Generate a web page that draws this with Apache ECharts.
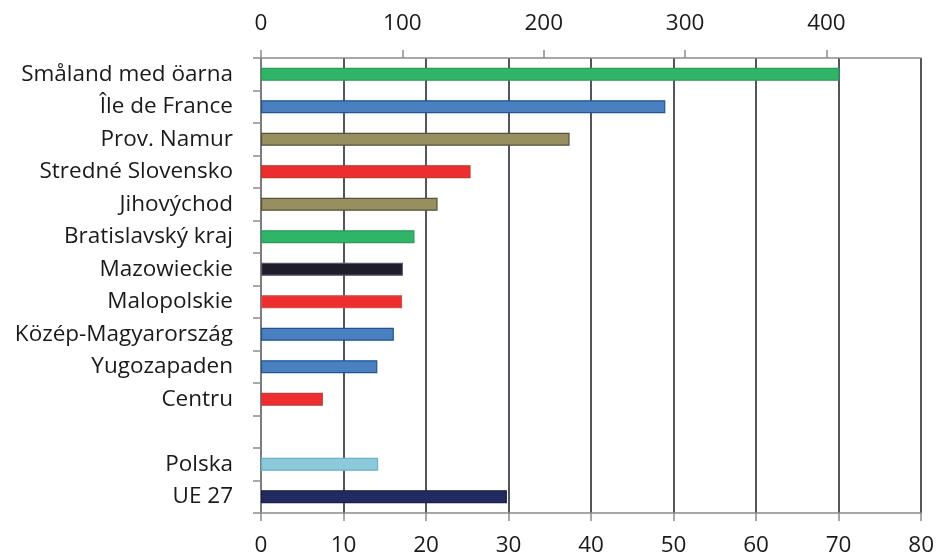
<!DOCTYPE html>
<html><head><meta charset="utf-8">
<script src="https://cdn.jsdelivr.net/npm/echarts@6/dist/echarts.min.js"></script>
<style>html,body{margin:0;padding:0;background:#fff}#c{width:937px;height:557px}</style>
</head><body><div id="c"></div>
<script>
const categories = ["Småland med öarna","Île de France","Prov. Namur","Stredné Slovensko","Jihovýchod","Bratislavský kraj","Mazowieckie","Malopolskie","Közép-Magyarország","Yugozapaden","Centru","","Polska","UE 27"];
const values = [70.1, 49.0, 37.4, 25.4, 21.4, 18.6, 17.2, 17.1, 16.1, 14.1, 7.5, null, 14.2, 29.8];
const barColors = ["#2fb468","#4a7fc0","#988f61","#ee2e2e","#988f61","#2fb468","#1d1d2b","#ee2e2e","#4a7fc0","#4a7fc0","#ee2e2e","#ffffff","#8bcadb","#222b60"];
const borderColors = ["#2c9c5a","#1f5597","#55523d","#c0392b","#55523d","#2c9c5a","#55556a","#d05050","#1f5597","#1f5597","#c04040","#ffffff","#6fb0c8","#1a1f48"];
const bottomTicks = [0,10,20,30,40,50,60,70,80];
const topTicks = [0,100,200,300,400];

const chart = echarts.init(document.getElementById('c'));
const font = "'Open Sans', sans-serif";
chart.setOption({
  animation: false,
  grid: {left: 261, right: 13, top: 58, bottom: 40},
  xAxis: [
    {type:'value', position:'bottom', min:0, max:80, interval:10,
     axisLine:{show:true, lineStyle:{color:'#8a8a8a', width:1.5}},
     axisTick:{show:true, length:8, lineStyle:{color:'#8a8a8a', width:1.5}},
     axisLabel:{color:'#1a1a1a', fontSize:22.5, fontFamily:font, margin:21},
     splitLine:{show:true, lineStyle:{color:'#2a2a35', width:1.6}}},
    {type:'value', position:'top', min:0, max:467,
     axisLine:{show:true, lineStyle:{color:'#8a8a8a', width:1.5}},
     axisTick:{show:true, length:8, customValues: topTicks, lineStyle:{color:'#8a8a8a', width:1.5}},
     axisLabel:{color:'#1a1a1a', fontSize:22.5, fontFamily:font, margin:23, customValues: topTicks},
     splitLine:{show:false}}
  ],
  yAxis: {type:'category', data: categories, inverse:true,
    axisLine:{show:true, lineStyle:{color:'#8a8a8a', width:1.5}},
    axisTick:{show:true, length:8, lineStyle:{color:'#8a8a8a', width:1.5}},
    axisLabel:{color:'#1a1a1a', fontSize:22.5, fontFamily:font, margin:28}},
  series: [{
    type:'bar', xAxisIndex:0, barWidth:13,
    data: values.map((v,i)=>({value:v, itemStyle:{color:barColors[i], borderColor:borderColors[i], borderWidth:1.2}}))
  }]
});
</script></body></html>
